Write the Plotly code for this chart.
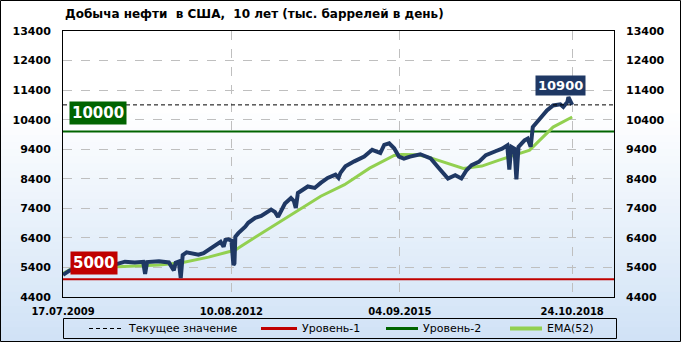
import plotly.graph_objects as go

# ---------------- data ----------------
prod_dates = [
    "2009-07-17", "2009-09-01", "2010-02-13", "2010-07-14", "2010-09-02", "2010-11-06",
    "2011-01-01", "2011-01-14", "2011-01-27", "2011-04-16", "2011-06-21", "2011-07-24",
    "2011-08-05", "2011-08-26", "2011-09-08", "2011-09-21", "2011-10-17", "2011-12-02",
    "2012-01-04", "2012-02-07", "2012-03-24", "2012-04-27", "2012-05-30", "2012-06-19",
    "2012-07-01", "2012-07-21", "2012-08-10", "2012-08-23", "2012-08-30", "2012-09-05",
    "2012-09-25", "2012-11-10", "2012-11-30", "2013-01-15", "2013-02-24", "2013-05-01",
    "2013-05-26", "2013-06-16", "2013-08-01", "2013-09-10", "2013-09-29", "2013-10-12",
    "2013-10-26", "2013-12-31", "2014-02-15", "2014-03-27", "2014-05-12", "2014-07-03",
    "2014-07-23", "2014-08-05", "2014-09-07", "2014-11-05", "2015-01-10", "2015-03-04",
    "2015-04-05", "2015-04-27", "2015-05-23", "2015-06-25", "2015-07-28", "2015-08-29",
    "2015-10-01", "2015-11-11", "2016-01-18", "2016-03-27", "2016-05-14", "2016-06-30",
    "2016-07-20", "2016-09-06", "2016-10-17", "2016-11-20", "2016-12-24", "2017-02-10",
    "2017-03-29", "2017-06-05", "2017-07-15", "2017-08-18", "2017-09-01", "2017-09-14",
    "2017-10-05", "2017-10-18", "2017-11-01", "2017-12-11", "2018-01-01", "2018-01-21",
    "2018-02-04", "2018-03-23", "2018-05-09", "2018-06-19", "2018-08-06", "2018-08-26",
    "2018-09-22", "2018-09-29", "2018-10-12", "2018-10-24",
]
prod_values = [
    5150, 5300, 5420, 5520, 5595, 5570,
    5590, 5180, 5580, 5610, 5570, 5300,
    5560, 5600, 5040, 5820, 5910, 5860,
    5830, 5880, 6050, 6160, 6270, 6100,
    6330, 6350, 6310, 5480, 5540, 6440,
    6560, 6780, 6910, 7080, 7140, 7360,
    7280, 7110, 7560, 7750, 7650, 7410,
    7920, 8140, 8090, 8260, 8430, 8540,
    8430, 8600, 8820, 8990, 9150, 9380,
    9330, 9270, 9550, 9600, 9430, 9150,
    9080, 9150, 9230, 9090, 8800, 8520,
    8410, 8520, 8410, 8690, 8860, 8970,
    9200, 9340, 9420, 9530, 8710, 9480,
    9420, 8380, 9480, 9700, 9760, 9480,
    10150, 10430, 10710, 10880, 10920, 10830,
    11000, 11160, 11050, 10900,
]

ema_dates = [
    "2009-07-17", "2009-09-21", "2010-07-14", "2011-04-16", "2011-09-14", "2012-03-11",
    "2012-09-05", "2012-09-25", "2013-01-15", "2013-08-20", "2014-03-27", "2014-09-01",
    "2015-02-15", "2015-07-28", "2015-09-15", "2015-12-29", "2016-03-07", "2016-10-30",
    "2017-03-02", "2017-06-25", "2018-01-14", "2018-06-19", "2018-10-24",
]
ema_values = [
    5200, 5380, 5420, 5480, 5560, 5750,
    5990, 6060, 6420, 7100, 7810, 8200,
    8760, 9190, 9220, 9210, 9140, 8750,
    8830, 9030, 9370, 10150, 10490,
]

level_1 = 5000
level_2 = 10000
current_value = 10900

x_start = "2009-07-17"
x_end = "2019-07-29"
tick_dates = ["2009-07-17", "2012-08-10", "2015-09-04", "2018-10-24"]
tick_labels = ["17.07.2009", "10.08.2012", "04.09.2015", "24.10.2018"]
y_ticks = [4400, 5400, 6400, 7400, 8400, 9400, 10400, 11400, 12400, 13400]

title_text = "Добыча нефти  в США,  10 лет (тыс. баррелей в день)"
legend_names = ["Текущее значение", "Уровень-1", "Уровень-2", "EMA(52)"]

# ---------------- layout geometry ----------------
W, H = 681, 342
L, R, T, B = 63, 614, 31, 297
FONT = "DejaVu Sans"

def px(x):
    return (x - L) / (R - L)

def py(y):
    return (B - y) / (B - T)

NAVY = "#1F3864"
RED = "#C00000"
GREEN = "#006400"
EMA_C = "#92D050"

fig = go.Figure()

# level lines
fig.add_trace(go.Scatter(x=[x_start, x_end], y=[level_1, level_1], mode="lines",
                         line=dict(color=RED, width=2), name=legend_names[1],
                         showlegend=False, hoverinfo="skip"))
fig.add_trace(go.Scatter(x=[x_start, x_end], y=[level_2, level_2], mode="lines",
                         line=dict(color=GREEN, width=2), name=legend_names[2],
                         showlegend=False, hoverinfo="skip"))
fig.add_trace(go.Scatter(x=[x_start, x_end], y=[current_value, current_value], mode="lines",
                         line=dict(color="black", width=1, dash="4px,3px"),
                         name=legend_names[0], showlegend=False, hoverinfo="skip",
                         yaxis="y2"))
fig.add_trace(go.Scatter(x=ema_dates, y=ema_values, mode="lines",
                         line=dict(color=EMA_C, width=3), name=legend_names[3],
                         showlegend=False))
fig.add_trace(go.Scatter(x=prod_dates, y=prod_values, mode="lines",
                         line=dict(color=NAVY, width=4), name="Добыча",
                         showlegend=False))

shapes = []
# gradient background bands
N = 48
top_c = (255, 255, 255)
bot_c = (208, 226, 246)
for i in range(N):
    y0 = H * i / N
    y1 = H * (i + 1) / N
    t = max(0.0, ((y0 + y1) / 2 - 110) / (H - 110))
    c = tuple(round(top_c[k] + (bot_c[k] - top_c[k]) * t) for k in range(3))
    shapes.append(dict(type="rect", xref="paper", yref="paper", layer="below",
                       x0=px(0), x1=px(W), y0=py(y1 + 0.5), y1=py(y0 - 0.5),
                       fillcolor="rgb(%d,%d,%d)" % c, line=dict(width=0)))
# outer border
shapes.append(dict(type="rect", xref="paper", yref="paper", layer="above",
                   x0=px(0.5), x1=px(W - 0.5), y0=py(H - 0.5), y1=py(0.5),
                   line=dict(color="black", width=1), fillcolor="rgba(0,0,0,0)"))
# legend box
shapes.append(dict(type="rect", xref="paper", yref="paper", layer="above",
                   x0=px(63.5), x1=px(616.5), y0=py(338.5), y1=py(318.5),
                   line=dict(color="black", width=1), fillcolor="rgba(0,0,0,0)"))
LEG_Y = 328.5
leg_items = [
    (89, 122, dict(color="black", width=1, dash="4px,3px"), 126),
    (261, 297, dict(color=RED, width=3), 300),
    (386, 418, dict(color=GREEN, width=3), 421),
    (510, 542, dict(color=EMA_C, width=4), 545),
]
annotations = []
for (xa, xb, ln, xt), name in zip(leg_items, legend_names):
    shapes.append(dict(type="line", xref="paper", yref="paper", layer="above",
                       x0=px(xa), x1=px(xb), y0=py(LEG_Y), y1=py(LEG_Y), line=ln))
    annotations.append(dict(xref="paper", yref="paper", x=px(xt), y=py(LEG_Y),
                            xanchor="left", yanchor="middle", showarrow=False,
                            text=name, font=dict(family=FONT, size=11, color="black")))

# value labels
annotations.append(dict(x=prod_dates[-1], y=current_value, xref="x", yref="y",
                        text="<b>%d</b>" % current_value, showarrow=False,
                        xanchor="center", yanchor="bottom", xshift=-12, yshift=9,
                        bgcolor=NAVY, borderpad=2,
                        font=dict(family=FONT, size=13, color="white")))
annotations.append(dict(x=px(98), y=level_2, xref="paper", yref="y",
                        text="<b>%d</b>" % level_2, showarrow=False,
                        xanchor="center", yanchor="bottom", yshift=6,
                        bgcolor=GREEN, borderpad=2,
                        font=dict(family=FONT, size=15, color="white")))
annotations.append(dict(x=px(93.5), y=level_1, xref="paper", yref="y",
                        text="<b>%d</b>" % level_1, showarrow=False,
                        xanchor="center", yanchor="bottom", yshift=4,
                        bgcolor=RED, borderpad=2,
                        font=dict(family=FONT, size=15, color="white")))

tickfont_y = dict(family=FONT, size=11, color="black", weight="bold")
fig.update_layout(
    width=W, height=H,
    margin=dict(l=L, r=W - R, t=T, b=H - B, pad=0),
    paper_bgcolor="white",
    plot_bgcolor="rgba(0,0,0,0)",
    showlegend=False,
    title=dict(text="<b>" + title_text.replace("  ", "&nbsp; ") + "</b>",
               x=px(65), xref="paper", xanchor="left",
               y=1 - 14 / H, yref="container", yanchor="middle",
               font=dict(family=FONT, size=12, color="black")),
    xaxis=dict(type="date", range=[x_start, x_end],
               tickvals=tick_dates, ticktext=tick_labels,
               tickfont=dict(family=FONT, size=10, color="black", weight="bold"),
               showgrid=True, gridcolor="#BFBFBF", griddash="dash", gridwidth=1,
               showline=True, linecolor="black", linewidth=1, mirror=True,
               ticks="", ticklabelstandoff=5, zeroline=False),
    yaxis=dict(range=[4400, 13400], tickvals=y_ticks, tickformat="d",
               tickfont=tickfont_y,
               showgrid=True, gridcolor="#BFBFBF", griddash="dash", gridwidth=1,
               showline=True, linecolor="black", linewidth=1, mirror=True,
               ticks="", ticklabelstandoff=9, zeroline=False),
    yaxis2=dict(range=[4400, 13400], tickvals=y_ticks, tickformat="d",
                overlaying="y", side="right",
                tickfont=tickfont_y, showgrid=False, showline=False,
                ticks="", ticklabelstandoff=11, zeroline=False),
    shapes=shapes,
    annotations=annotations,
)

fig.write_html("out.html")
